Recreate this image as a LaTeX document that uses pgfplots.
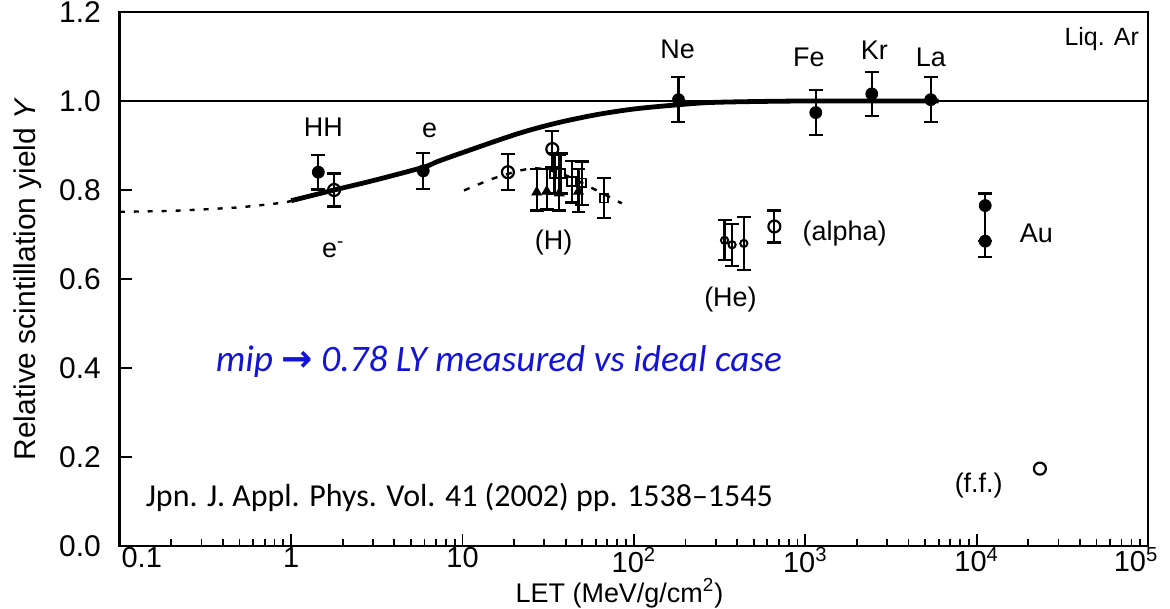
\documentclass[border=0pt]{standalone}
\usepackage{pgfplots}
\pgfplotsset{compat=1.18}
\usepackage{fontspec}
\setmainfont{Liberation Sans}
\newfontfamily\calibri{Carlito}
\newfontfamily\arrowfont{DejaVu Sans}
\definecolor{annblue}{RGB}{20,20,215}
\newcommand\lab{\fontsize{13.5bp}{15bp}\selectfont}
\newcommand\tlab{\fontsize{15bp}{17bp}\selectfont}
\begin{document}
\begin{tikzpicture}
\useasboundingbox (-60bp,-31.5bp) rectangle (526bp,273.5bp);
\begin{axis}[
 scale only axis, width=515bp, height=267.5bp,
 xmode=log, xmin=0.1, xmax=1e5, ymin=0, ymax=1.2,
 axis line style={line width=1.3bp},
 tick align=inside, xtick pos=bottom, ytick pos=left,
 major tick length=6bp, minor tick length=3.5bp,
 every tick/.style={black, line width=0.9bp},
 xtick={0.1,1,10,100,1000,10000,100000},
 xticklabels={\hspace*{22bp}0.1,1,10,10\textsuperscript{2},10\textsuperscript{3},10\textsuperscript{4},10\textsuperscript{5}\hspace*{12bp}},
 minor xtick={0.2,0.3,0.4,0.5,0.6,0.7,0.8,0.9,2,3,4,5,6,7,8,9,20,30,40,50,60,70,80,90,200,300,400,500,600,700,800,900,2000,3000,4000,5000,6000,7000,8000,9000,20000,30000,40000,50000,60000,70000,80000,90000},
 ytick={0,0.2,0.4,0.6,0.8,1.0,1.2},
 yticklabels={0.0,0.2,0.4,0.6,0.8,1.0,1.2},
 tick label style={font=\tlab},
 yticklabel style={xshift=-6bp},
 xticklabel style={font=\fontsize{14.5bp}{16bp}\selectfont, yshift=0.5bp, inner sep=1bp},
 xlabel={LET (MeV/g/cm\textsuperscript{2})},
 ylabel={Relative scintillation yield \textit{Y}},
 label style={font=\tlab},
 xlabel style={font=\fontsize{13.5bp}{15bp}\selectfont, inner sep=0pt, at={(axis description cs:0.486,-0.088)}, anchor=center},
 ylabel style={at={(axis description cs:-0.0893,0.5)}, anchor=center},
 clip=false,
 error bars/error bar style={line width=1.1bp},
 error bars/error mark options={rotate=90, mark size=3.5bp, line width=1.1bp},
]
% reference line Y = 1
\addplot[line width=1bp] coordinates {(0.1,1) (100000,1)};
% left dotted extension
\addplot[line width=1.2bp, dash pattern=on 2.5bp off 4.5bp] coordinates {
 (0.1,0.751) (0.2,0.753) (0.33,0.757) (0.5,0.761) (0.71,0.767) (0.87,0.771) (1.0,0.775)};
% thick model curve
\addplot[line width=2.4bp, smooth] coordinates {
 (1,0.776) (1.78,0.80) (3,0.821) (5.9,0.851) (7.15,0.864) (10,0.884) (20.8,0.926)
 (35,0.950) (60,0.969) (100,0.982) (175,0.991) (300,0.997) (1000,1.0) (6000,1.0)};
% dashed H curve
\addplot[line width=1.2bp, dash pattern=on 3bp off 4.5bp, smooth] coordinates {
 (10.2,0.799) (14.9,0.825) (20.8,0.842) (25,0.848) (30,0.847) (40,0.833) (60,0.800) (85,0.770)};
% filled circles
\addplot[only marks, mark=*, mark size=3bp, error bars/.cd, y dir=both, y explicit]
 table[x=x, y=y, y error plus=ep, y error minus=em] {
x y ep em
1.44 0.840 0.039 0.039
5.9 0.843 0.040 0.040
182 1.003 0.050 0.050
1151 0.974 0.050 0.050
2443 1.016 0.050 0.050
5395 1.003 0.050 0.050
11220 0.765 0.027 0.115
11220 0.685 0 0
};
% open circles large
\addplot[only marks, mark=o, mark size=3bp, mark options={line width=1.1bp, fill=white}, error bars/.cd, y dir=both, y explicit]
 table[x=x, y=y, y error plus=ep, y error minus=em] {
x y ep em
1.78 0.800 0.037 0.037
18.4 0.840 0.040 0.040
33.4 0.892 0.040 0.040
660 0.718 0.036 0.036
};
\addplot[only marks, mark=o, mark size=3bp, mark options={line width=1.1bp}] coordinates {(23390,0.174)};
% He small circles
\addplot[only marks, mark=o, mark size=1.8bp, mark options={line width=1bp, fill=white}, error bars/.cd, y dir=both, y explicit]
 table[x=x, y=y, y error plus=ep, y error minus=em] {
x y ep em
338 0.687 0.045 0.045
374 0.677 0.047 0.047
438 0.680 0.060 0.060
};
% triangles
\addplot[only marks, mark=triangle*, mark size=2.8bp, error bars/.cd, y dir=both, y explicit]
 table[x=x, y=y, y error plus=ep, y error minus=em] {
x y ep em
27.1 0.795 0.053 0.041
31.0 0.797 0.051 0.041
36.7 0.793 0.086 0.039
47.5 0.797 0.050 0.047
};
% open squares
\addplot[only marks, mark=square, mark size=2.2bp, mark options={line width=0.9bp, fill=white}, error bars/.cd, y dir=both, y explicit]
 table[x=x, y=y, y error plus=ep, y error minus=em] {
x y ep em
34.4 0.837 0.045 0.045
37.4 0.837 0.045 0.045
43.3 0.819 0.047 0.047
49.6 0.816 0.048 0.050
66.9 0.782 0.045 0.045
};
% labels
\node[font=\lab] at (axis cs:1.54,0.94) {HH};
\node[font=\lab] at (axis cs:6.42,0.933) {e};
\node[font=\lab] at (axis cs:1.76,0.666) {e\textsuperscript{-}};
\node[font=\lab] at (axis cs:34,0.682) {(H)};
\node[font=\lab] at (axis cs:366,0.554) {(He)};
\node[font=\lab] at (axis cs:1695,0.702) {(alpha)};
\node[font=\lab] at (axis cs:22280,0.702) {Au};
\node[font=\lab] at (axis cs:10280,0.135) {(f.f.)};
\node[font=\lab] at (axis cs:180,1.115) {Ne};
\node[font=\lab] at (axis cs:1050,1.097) {Fe};
\node[font=\lab] at (axis cs:2530,1.115) {Kr};
\node[font=\lab] at (axis cs:5410,1.099) {La};
\node[font=\fontsize{12.5bp}{14bp}\selectfont, anchor=north east] at (rel axis cs:0.998,0.985) {Liq. Ar};
\node[font=\calibri\itshape\fontsize{18.7bp}{21bp}\selectfont, text=annblue] at (axis cs:16.3,0.415) {mip {\arrowfont\bfseries →} 0.78 LY measured vs ideal case};
\node[font=\calibri\fontsize{16bp}{18bp}\selectfont] at (axis cs:9.58,0.110) {Jpn. J. Appl. Phys. Vol. 41 (2002) pp. 1538–1545};
\end{axis}
\end{tikzpicture}
\end{document}
